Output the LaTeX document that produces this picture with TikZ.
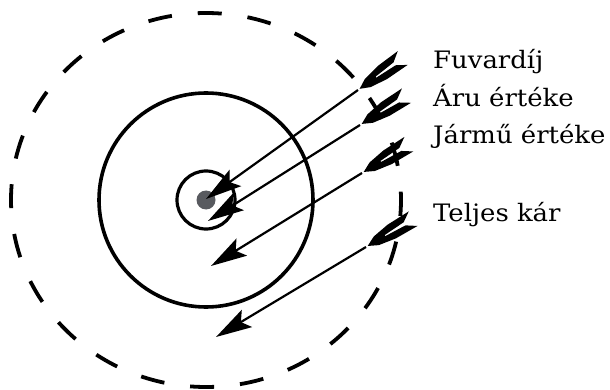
\documentclass[tikz,border=0pt]{standalone}
\usepackage{fontspec}
\setmainfont{DejaVu Serif}[FakeStretch=1.08]
\usetikzlibrary{arrows.meta}
\definecolor{dotgray}{RGB}{88,90,95}

\tikzset{
  ring/.style={line width=3.6pt},
  outerring/.style={line width=3.8pt, dash pattern=on 24pt off 26pt, dash phase=8pt},
  shaft/.style={line width=2.2pt, -{Stealth[length=36pt,width=20pt,inset=7pt]}},
  lbl/.style={anchor=base west, inner sep=0pt, font=\fontsize{24}{28}\selectfont},
  fletch/.pic={
    \fill (2,0) -- (12,5) -- (30,8) -- (55,8.5) -- (45,1.8) -- (22,0.6) -- (22,-0.6)
      -- (45,-1.8) -- (55,-8.5) -- (30,-8) -- (12,-5) -- cycle;
  }
}

\begin{document}
\begin{tikzpicture}[x=1pt,y=-1pt]
\useasboundingbox (0,0) rectangle (610,390);
% target rings
\draw[outerring] (206,200) ellipse [x radius=195, y radius=187];
\draw[ring] (206,200) circle [radius=107];
\draw[ring,line width=3.2pt] (206,200) circle [radius=29];
\fill[dotgray] (206,200) circle [radius=9.5];
% labels
\node[lbl] (fuvar) at (433,69) {Fuvardíj};
\node[lbl] (aru) at (433,107) {Áru értéke};
\node[lbl] (jarmu) at (433,144) {Jármű értéke};
\node[lbl] (kar) at (433,222) {Teljes kár};
% arrows: n / tail / tip / angle of the fletching
\foreach \n/\tx/\ty/\hx/\hy/\ang in {1/358/90/206/199/35.6, 2/360/125/208/221/32.3,
                                    3/362/173/211/266/31.6, 4/366/247/216/337/31.0}{
  \coordinate (tail\n) at (\tx,\ty);
  \coordinate (tip\n) at (\hx,\hy);
  \draw[shaft] (tail\n) -- (tip\n);
  \pic[rotate=\ang] at (tail\n) {fletch};
}
\end{tikzpicture}
\end{document}
